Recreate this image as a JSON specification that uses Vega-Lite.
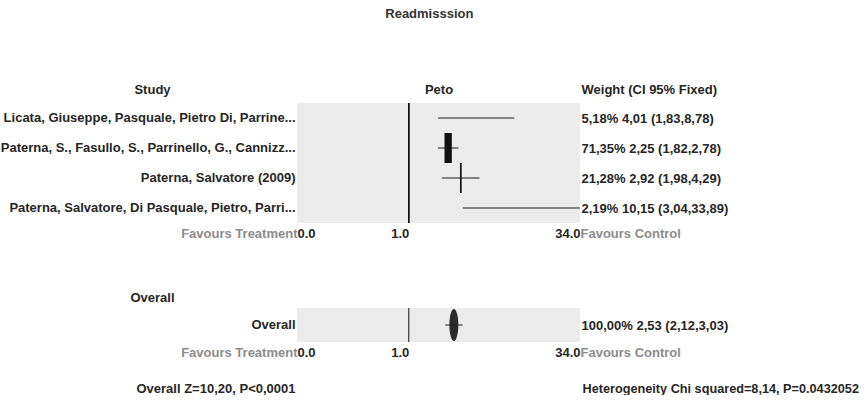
{
  "$schema": "https://vega.github.io/schema/vega-lite/v6.json",
  "padding": {"left": 0, "top": 8, "right": 0, "bottom": 0},
  "background": "white",
  "title": {"text": "Readmisssion", "anchor": "middle", "offset": 62, "fontSize": 13, "fontWeight": "bold", "color": "#333333", "font": "Liberation Sans"},
  "datasets": {
    "studies": [
      {"order": 1, "study": "Licata, Giuseppe, Pasquale, Pietro Di, Parrine...", "weight": 5.18, "est": 4.01, "lo": 1.83, "hi": 8.78, "label": "5,18% 4,01 (1,83,8,78)"},
      {"order": 2, "study": "Paterna, S., Fasullo, S., Parrinello, G., Cannizz...", "weight": 71.35, "est": 2.25, "lo": 1.82, "hi": 2.78, "label": "71,35% 2,25 (1,82,2,78)"},
      {"order": 3, "study": "Paterna, Salvatore (2009)", "weight": 21.28, "est": 2.92, "lo": 1.98, "hi": 4.29, "label": "21,28% 2,92 (1,98,4,29)"},
      {"order": 4, "study": "Paterna, Salvatore, Di Pasquale, Pietro, Parri...", "weight": 2.19, "est": 10.15, "lo": 3.04, "hi": 33.89, "label": "2,19% 10,15 (3,04,33,89)"}
    ],
    "overall": [
      {"order": 1, "study": "Overall", "weight": 100, "est": 2.53, "lo": 2.12, "hi": 3.03, "label": "100,00% 2,53 (2,12,3,03)"}
    ]
  },
  "spacing": 51,
  "vconcat": [
    {
      "width": 283,
      "height": 120,
      "data": {"name": "studies"},
      "resolve": {"scale": {"y": "independent"}, "axis": {"x": "independent", "y": "independent"}},
      "layer": [
        {
          "mark": {"type": "rule", "color": "#111111", "strokeWidth": 1},
          "encoding": {
            "x": {"datum": 1, "type": "quantitative", "scale": {"type": "log", "domain": [0.1, 34], "nice": false}, "axis": null}
          }
        },
        {
          "mark": {"type": "rule", "color": "#1a1a1a", "strokeWidth": 1},
          "encoding": {
            "x": {"field": "lo", "type": "quantitative", "scale": {"type": "log", "domain": [0.1, 34], "nice": false},
              "axis": {"orient": "bottom", "title": null, "values": [0.1, 0.100001, 1, 33.9999, 34],
                "labelExpr": "datum.index == 0 ? 'Favours Treatment' : datum.index == 0.25 ? '0.0' : datum.index == 0.5 ? '1.0' : datum.index == 0.75 ? '34.0' : 'Favours Control'",
                "labelAlign": {"condition": {"test": "datum.index == 0.25 || datum.index == 1", "value": "left"}, "value": "right"},
                "labelColor": {"condition": {"test": "datum.index == 0 || datum.index == 1", "value": "#8c8c8c"}, "value": "#262626"},
                "labelOverlap": false, "labelFlush": false, "labelBound": false, "ticks": false, "domain": false, "labelPadding": 4}},
            "x2": {"field": "hi"},
            "y": {"field": "study", "type": "nominal", "sort": null,
              "axis": {"orient": "left", "title": "Study", "titleAngle": 0, "titleAlign": "center", "titleBaseline": "alphabetic", "titleX": -145, "titleY": -10,
                "ticks": false, "domain": false, "labelPadding": 2, "labelLimit": 400}}
          }
        },
        {
          "mark": {"type": "point", "shape": "M0,-1L0,1", "size": 900, "filled": false, "color": "#111111", "opacity": 1, "strokeCap": "butt"},
          "encoding": {
            "x": {"field": "est", "type": "quantitative", "scale": {"type": "log", "domain": [0.1, 34], "nice": false},
              "axis": {"orient": "top", "title": "Peto", "labels": false, "ticks": false, "domain": false, "titleBaseline": "alphabetic", "titleY": -10}},
            "y": {"field": "label", "type": "nominal", "sort": null,
              "axis": {"orient": "right", "title": "Weight (CI 95% Fixed)", "titleAngle": 0, "titleAlign": "left", "titleBaseline": "alphabetic", "titleX": 1, "titleY": -10,
                "ticks": false, "domain": false, "labelPadding": 1, "labelLimit": 400}},
            "strokeWidth": {"field": "weight", "type": "quantitative", "scale": {"domain": [6, 100], "range": [0, 10.5], "clamp": true}, "legend": null}
          }
        }
      ]
    },
    {
      "width": 283,
      "height": 34,
      "data": {"name": "overall"},
      "resolve": {"scale": {"y": "independent"}, "axis": {"x": "independent", "y": "independent"}},
      "layer": [
        {
          "mark": {"type": "rule", "color": "#111111", "strokeWidth": 1},
          "encoding": {
            "x": {"datum": 1, "type": "quantitative", "scale": {"type": "log", "domain": [0.1, 34], "nice": false}, "axis": null}
          }
        },
        {
          "mark": {"type": "point", "shape": "M0,-1A0.28,1,0,1,1,0,1A0.28,1,0,1,1,0,-1Z", "size": 1024, "filled": true, "color": "#2b2b2b", "opacity": 1},
          "encoding": {
            "x": {"field": "est", "type": "quantitative", "scale": {"type": "log", "domain": [0.1, 34], "nice": false},
              "axis": {"orient": "top", "title": "Overall", "labels": false, "ticks": false, "domain": false, "titleAlign": "center", "titleBaseline": "alphabetic", "titleX": -145, "titleY": -7}},
            "y": {"field": "label", "type": "nominal", "sort": null,
              "axis": {"orient": "right", "title": "Heterogeneity Chi squared=8,14, P=0.0432052", "titleFontSize": 12.7, "titleAngle": 0, "titleAlign": "left", "titleBaseline": "alphabetic", "titleX": 2, "titleY": 84,
                "ticks": false, "domain": false, "labelPadding": 1, "labelLimit": 400}}
          }
        },
        {
          "mark": {"type": "rule", "color": "#1a1a1a", "strokeWidth": 1},
          "encoding": {
            "x": {"field": "lo", "type": "quantitative", "scale": {"type": "log", "domain": [0.1, 34], "nice": false},
              "axis": {"orient": "bottom", "title": null, "values": [0.1, 0.100001, 1, 33.9999, 34],
                "labelExpr": "datum.index == 0 ? 'Favours Treatment' : datum.index == 0.25 ? '0.0' : datum.index == 0.5 ? '1.0' : datum.index == 0.75 ? '34.0' : 'Favours Control'",
                "labelAlign": {"condition": {"test": "datum.index == 0.25 || datum.index == 1", "value": "left"}, "value": "right"},
                "labelColor": {"condition": {"test": "datum.index == 0 || datum.index == 1", "value": "#8c8c8c"}, "value": "#262626"},
                "labelOverlap": false, "labelFlush": false, "labelBound": false, "ticks": false, "domain": false, "labelPadding": 4}},
            "x2": {"field": "hi"},
            "y": {"field": "study", "type": "nominal", "sort": null,
              "axis": {"orient": "left", "title": "Overall Z=10,20, P<0,0001", "titleAngle": 0, "titleAlign": "right", "titleBaseline": "alphabetic", "titleX": -2, "titleY": 84,
                "ticks": false, "domain": false, "labelPadding": 2, "labelLimit": 400}}
          }
        }
      ]
    }
  ],
  "config": {
    "font": "Liberation Sans",
    "view": {"fill": "#ececec", "stroke": null},
    "axis": {"grid": false, "labelFont": "Liberation Sans", "titleFont": "Liberation Sans", "labelFontSize": 13, "titleFontSize": 13, "labelFontWeight": "bold", "titleFontWeight": "bold", "labelColor": "#262626", "titleColor": "#262626"}
  }
}
